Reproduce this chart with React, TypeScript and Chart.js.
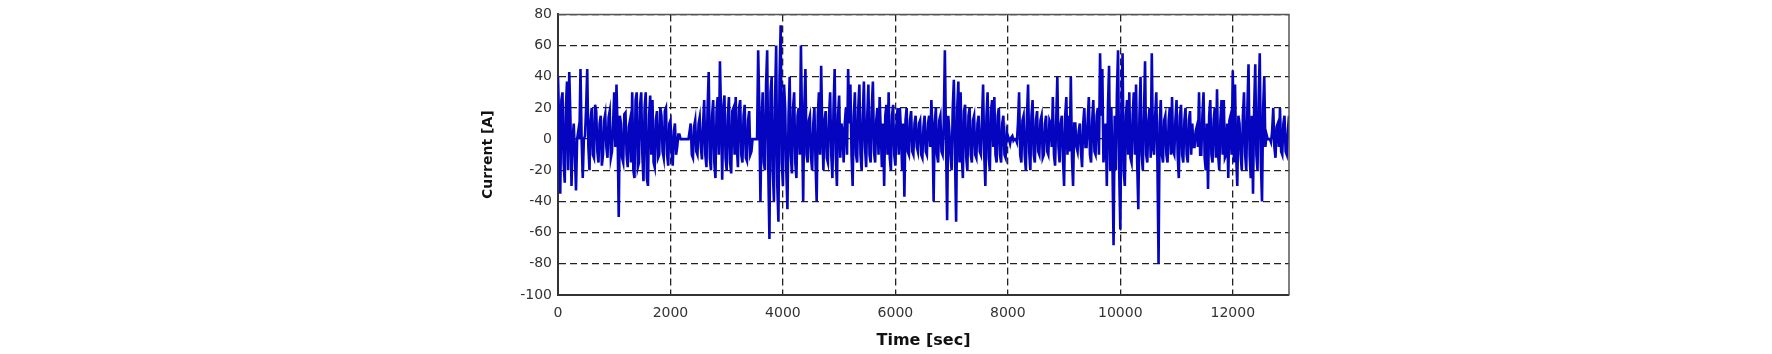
import React, { useEffect, useRef } from "react";
import { Chart, registerables } from "chart.js";

Chart.register(...registerables);

// Sampling interval of the recorded current (seconds)
const timeStep = 20;

// Current [A], segment by segment (one value every 20 s)
const current0to2000 = [
  40, 10, -35, 25, 30, -15, -28, 20, 37, -20,
  43, 15, -30, 0, 10, -10, -33, 0, 5, 0,
  45, 0, -25, 0, 2, 20, 45, -5, -20, 12,
  20, -10, -12, 22, 18, -8, -15, 10, 15, -17,
  -10, 12, 16, -5, -12, 14, 18, -12, -8, 10,
  30, -5, 35, 5, -50, 15, 10, -12, -15, 16,
  17, -10, -18, 8, 12, -15, 30, -20, -25, 25,
  30, -18, -15, 22, 30, -10, -27, 20, 30, -25,
  -30, 15, 28, -10, 25, -15, -18, 12, 18, -12,
  -10, 20, 15, -8, -12, 18, 20, -10, -17, 10,
];
const current2000to4000 = [
  12, -8, -17, 5, 10, -10, -5, 3, 3, 0,
  0, 0, 0, 0, 0, 0, 0, 5, 10, -10,
  -12, 8, 12, -8, -10, 10, 14, -5, -13, 10,
  25, -10, -18, 20, 43, -12, -20, 15, 25, -15,
  -25, 18, 27, -10, 50, 15, -26, 20, 28, -12,
  -20, 15, 27, -15, -22, 18, 20, -10, 27, -5,
  -18, 20, 25, -10, -15, 15, 22, -12, -14, 12,
  18, -10, -8, 0, 0, 0, 0, 0, 57, 20,
  -40, 10, 30, -15, -20, 35, 57, -20, -64, 30,
  40, -20, -40, 25, 60, -30, -53, 40, 73, -15,
];
const current4000to6000 = [
  -30, 35, 20, -20, -45, 15, 40, -10, -22, 20,
  30, -15, -25, 15, 20, -10, 60, 10, -40, 20,
  45, -10, -15, 12, 15, -12, -20, 10, 20, -15,
  -40, 15, 30, -10, 47, 5, -20, 12, 18, -12,
  -15, 15, 30, -10, -25, 20, 45, -10, -30, 15,
  28, -12, 10, 5, -15, 10, 20, -10, 45, 10,
  35, -10, -30, 15, 30, -10, -15, 20, 35, -10,
  -20, 15, 37, -5, -18, 15, 35, -10, -15, 20,
  37, -8, -15, 12, 20, -10, 27, 5, -18, 10,
  -30, 15, 22, -10, 30, -12, -20, 15, 22, -10,
];
const current6000to8000 = [
  -17, 10, 20, -10, 20, 5, -20, 10, -37, 12,
  20, -8, -10, 12, 18, -8, -10, 10, 15, -5,
  -8, 10, 12, -10, -12, 8, 15, -8, -10, 10,
  15, -5, 25, 5, -40, 10, 20, -10, -15, 12,
  15, -8, -10, 10, 57, 0, -52, 15, 5, -10,
  -20, 20, 38, -10, -53, 20, 37, -15, 30, -10,
  -25, 18, 22, -12, -20, 15, 20, -10, -15, 12,
  15, -10, -12, 10, 15, -8, -10, 12, 35, -10,
  -30, 15, 30, -12, -20, 18, 25, -5, 27, -10,
  -15, 15, 20, -10, -15, 10, 15, -10, -12, 5,
];
const current8000to10000 = [
  2, 0, -3, 1, 2, -1, 0, 0, -2, 10,
  30, -10, -15, 12, 15, -10, -20, 15, 35, -8,
  -20, 15, 25, -10, -15, 12, 18, -8, -10, 12,
  15, -12, -10, 10, 15, -8, -10, 12, 10, -5,
  27, -10, -17, 12, 40, -5, -15, 10, 15, -12,
  -30, 15, 27, -10, 15, -8, 40, -12, -30, 10,
  10, -5, -8, 5, 10, -8, -18, 10, 20, -5,
  -5, 12, 27, -10, -15, 12, 25, -8, -10, 15,
  20, -10, 55, 15, 45, -15, -5, 10, -30, 20,
  47, -20, 20, -15, -68, 15, -20, 30, 57, -20,
];
const current10000to12000 = [
  -58, 20, 55, -20, -30, 15, 25, -10, 30, -12,
  -15, 15, 30, -10, 35, -15, -45, 15, 40, -10,
  -20, 15, 50, -10, -15, 12, 20, -12, 55, -5,
  -10, 15, 30, -15, -80, 10, 25, -10, -15, 12,
  15, -10, -15, 12, 20, -10, 27, -8, -10, 12,
  25, -10, -25, 15, 22, -10, -15, 12, 20, -10,
  -15, 12, 18, -10, 10, -5, -5, 5, 8, -5,
  30, -10, -10, 15, 30, -12, -20, 10, -32, 15,
  25, -10, -15, 12, 20, -12, 32, -10, -20, 12,
  25, -10, 25, -12, -10, 10, -25, 12, 15, -10,
];
const current12000to13000 = [
  44, -15, 35, -10, -30, 15, 10, -10, -20, 15,
  30, -10, -20, 20, 48, -10, -25, 15, -35, 20,
  48, -10, -20, 25, 55, -15, -40, 20, 40, -5,
  3, 0, 0, 0, -2, 5, 20, -5, -12, 8,
  10, -5, 20, -8, -10, 10, 15, -8, -10, 5,
  15,
];

const xTickValues = [0, 2000, 4000, 6000, 8000, 10000, 12000];
const yTickValues = [-100, -80, -60, -40, -20, 0, 20, 40, 60, 80];

const xTitle = "Time [sec]";
const yTitle = "Current [A]";

const currentValues = [
  ...current0to2000,
  ...current2000to4000,
  ...current4000to6000,
  ...current6000to8000,
  ...current8000to10000,
  ...current10000to12000,
  ...current12000to13000,
];

const framePlugin = {
  id: "frame",
  afterDatasetsDraw(chart: any) {
    const { ctx, chartArea } = chart;
    ctx.save();
    ctx.strokeStyle = "#555";
    ctx.lineWidth = 1.5;
    ctx.setLineDash([]);
    ctx.beginPath();
    ctx.moveTo(chartArea.left, chartArea.top);
    ctx.lineTo(chartArea.right, chartArea.top);
    ctx.lineTo(chartArea.right, chartArea.bottom);
    ctx.stroke();
    ctx.restore();
  },
};

export default function App() {
  const canvasRef = useRef<HTMLCanvasElement | null>(null);

  useEffect(() => {
    document.body.style.margin = "0";
    const canvas = canvasRef.current;
    if (!canvas) return;
    const points = currentValues.map((v, i) => ({ x: i * timeStep, y: v }));
    const dash = (c: any) => (c.tick && c.tick.value === 0 ? [] : [7, 4]);
    const chart = new Chart(canvas, {
      type: "line",
      data: {
        datasets: [
          {
            data: points,
            borderColor: "#0505c0",
            borderWidth: 2.6,
            pointRadius: 0,
            tension: 0,
            fill: false,
          },
        ],
      },
      options: {
        animation: false,
        responsive: false,
        devicePixelRatio: 1,
        layout: { padding: { left: 0, right: 483, top: 13, bottom: 0 } },
        plugins: { legend: { display: false }, tooltip: { enabled: false } },
        scales: {
          x: {
            type: "linear",
            min: 0,
            max: 13000,
            afterBuildTicks: (s: any) => {
              s.ticks = xTickValues.map((v) => ({ value: v }));
            },
            afterFit: (s: any) => {
              s.height = 59;
            },
            grid: { color: "#222", lineWidth: 1.3, drawTicks: false },
            border: { display: true, color: "#333", width: 2, dash },
            ticks: {
              padding: 10,
              color: "#333",
              font: { family: "DejaVu Sans", size: 14 },
              maxRotation: 0,
              autoSkip: false,
              callback: (v: any) => String(v),
            },
            title: {
              display: true,
              text: xTitle,
              color: "#111",
              font: { family: "DejaVu Sans", size: 16, weight: "bold" },
              padding: { top: 0, bottom: 4 },
            },
          },
          y: {
            type: "linear",
            min: -100,
            max: 80,
            afterBuildTicks: (s: any) => {
              s.ticks = yTickValues.map((v) => ({ value: v }));
            },
            afterFit: (s: any) => {
              s.width = 558;
            },
            grid: { color: "#222", lineWidth: 1.3, drawTicks: false },
            border: { display: true, color: "#333", width: 2, dash },
            ticks: {
              padding: 6,
              color: "#333",
              font: { family: "DejaVu Sans", size: 14 },
              autoSkip: false,
              callback: (v: any) => String(v),
            },
            title: {
              display: true,
              text: yTitle,
              color: "#111",
              font: { family: "DejaVu Sans", size: 14, weight: "bold" },
              padding: { top: 480, bottom: 0 },
            },
          },
        },
      },
      plugins: [framePlugin],
    } as any);
    return () => chart.destroy();
  }, []);

  return (
    <div style={{ width: 1772, height: 354 }}>
      <canvas ref={canvasRef} width={1772} height={354} />
    </div>
  );
}
